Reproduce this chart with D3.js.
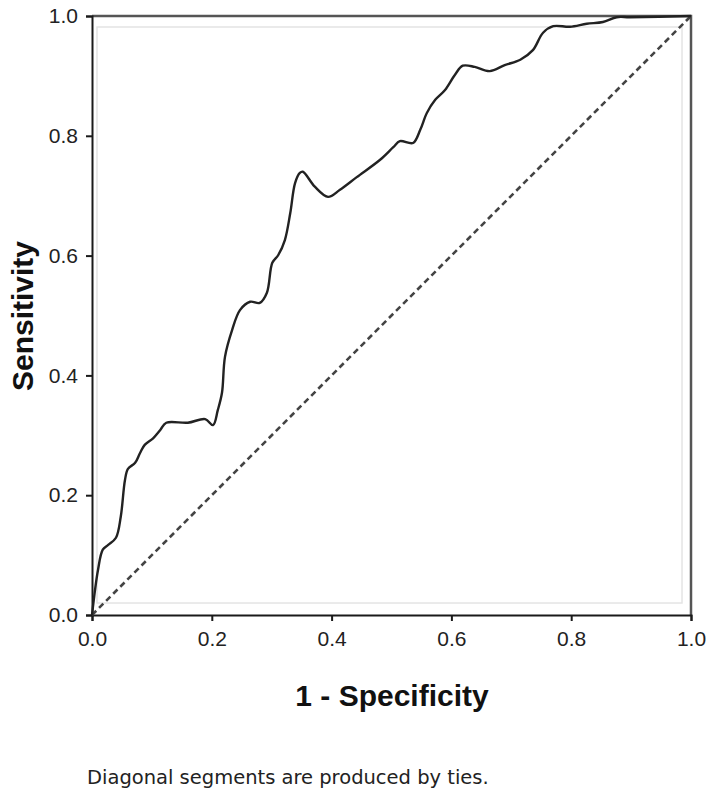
<!DOCTYPE html>
<html>
<head>
<meta charset="utf-8">
<script src="https://cdn.jsdelivr.net/npm/d3@7"></script>
<style>
  body { margin: 0; background: #fff; }
</style>
</head>
<body>
<div id="chart"></div>
<script>
// ROC curve
const fpr = [0, 0.010, 0.018, 0.027, 0.040, 0.048, 0.055, 0.060, 0.072, 0.080, 0.088, 0.102, 0.114, 0.124,
  0.160, 0.189, 0.202, 0.210, 0.217, 0.222, 0.234, 0.247, 0.264, 0.280, 0.292, 0.301, 0.311, 0.322,
  0.331, 0.339, 0.347, 0.352, 0.372, 0.394, 0.414, 0.442, 0.481, 0.503, 0.514, 0.536, 0.548, 0.559,
  0.573, 0.589, 0.606, 0.619, 0.639, 0.664, 0.689, 0.715, 0.736, 0.753, 0.770, 0.798, 0.826, 0.853,
  0.876, 0.898, 1];
const tpr = [0, 0.075, 0.109, 0.117, 0.129, 0.164, 0.225, 0.244, 0.254, 0.270, 0.284, 0.295, 0.309, 0.321,
  0.321, 0.327, 0.317, 0.342, 0.371, 0.431, 0.476, 0.509, 0.523, 0.521, 0.538, 0.588, 0.601, 0.626,
  0.671, 0.721, 0.738, 0.740, 0.715, 0.698, 0.710, 0.731, 0.760, 0.781, 0.791, 0.788, 0.810, 0.838,
  0.860, 0.876, 0.902, 0.917, 0.915, 0.908, 0.918, 0.927, 0.943, 0.972, 0.983, 0.982, 0.987, 0.990,
  0.998, 0.998, 1];
const refLine = [[0, 0], [1, 1]];
const tickValues = [0, 0.2, 0.4, 0.6, 0.8, 1.0];

const width = 711, height = 801;
const margin = {left: 92, top: 16, right: 20, bottom: 186};

const svg = d3.select("#chart")
  .append("svg")
  .attr("width", width)
  .attr("height", height);

const x = d3.scaleLinear().domain([0, 1]).range([margin.left, 691]);
const y = d3.scaleLinear().domain([0, 1]).range([615, margin.top]);

// faint inner frame
svg.append("rect")
  .attr("x", x(0) + 5)
  .attr("y", y(1) + 11)
  .attr("width", x(1) - x(0) - 14)
  .attr("height", y(0) - y(1) - 23)
  .attr("fill", "none")
  .attr("stroke", "#e4e4e4")
  .attr("stroke-width", 1.5);

// top and right frame
svg.append("path")
  .attr("d", `M${x(0)},${y(1)} L${x(1)},${y(1)} L${x(1)},${y(0)}`)
  .attr("fill", "none")
  .attr("stroke", "#555")
  .attr("stroke-width", 2.5);

// axes
const xAxis = d3.axisBottom(x)
  .tickValues(tickValues)
  .tickSize(6)
  .tickPadding(10)
  .tickFormat(d3.format(".1f"));
const yAxis = d3.axisLeft(y)
  .tickValues(tickValues)
  .tickSize(6)
  .tickPadding(8)
  .tickFormat(d3.format(".1f"));

const gx = svg.append("g")
  .attr("transform", `translate(0,${y(0)})`)
  .call(xAxis);
const gy = svg.append("g")
  .attr("transform", `translate(${x(0)},0)`)
  .call(yAxis);

[gx, gy].forEach(g => {
  g.select(".domain").attr("stroke", "#1a1a1a").attr("stroke-width", 2);
  g.selectAll(".tick line").attr("stroke", "#1a1a1a").attr("stroke-width", 2);
  g.selectAll(".tick text")
    .attr("fill", "#222")
    .style("font-family", "'Liberation Sans', Arial, sans-serif")
    .style("font-size", "21px");
});

// diagonal reference
svg.append("path")
  .datum(refLine)
  .attr("d", d3.line().x(d => x(d[0])).y(d => y(d[1])))
  .attr("fill", "none")
  .attr("stroke", "#444")
  .attr("stroke-width", 2.6)
  .attr("stroke-dasharray", "6,4");

// roc curve
const pts = fpr.map((d, i) => [d, tpr[i]]);
svg.append("path")
  .datum(pts)
  .attr("d", d3.line()
    .x(d => x(d[0]))
    .y(d => y(d[1]))
    .curve(d3.curveCatmullRom.alpha(0.5)))
  .attr("fill", "none")
  .attr("stroke", "#222")
  .attr("stroke-width", 2.4);

// axis titles
svg.append("text")
  .attr("x", 392)
  .attr("y", 706)
  .attr("text-anchor", "middle")
  .style("font-family", "'Liberation Sans', Arial, sans-serif")
  .style("font-weight", "bold")
  .style("font-size", "30px")
  .attr("fill", "#111")
  .text("1 - Specificity");

svg.append("text")
  .attr("transform", "translate(33,316) rotate(-90)")
  .attr("text-anchor", "middle")
  .style("font-family", "'Liberation Sans', Arial, sans-serif")
  .style("font-weight", "bold")
  .style("font-size", "30px")
  .attr("fill", "#111")
  .text("Sensitivity");

// footnote
svg.append("text")
  .attr("x", 87)
  .attr("y", 784)
  .style("font-family", "'DejaVu Sans', sans-serif")
  .style("font-size", "19.5px")
  .attr("fill", "#222")
  .text("Diagonal segments are produced by ties.");
</script>
</body>
</html>
